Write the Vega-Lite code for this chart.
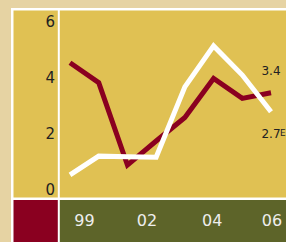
{
  "$schema": "https://vega.github.io/schema/vega-lite/v6.json",
  "width": 275,
  "height": 234,
  "autosize": {"type": "none"},
  "padding": {"left": 11, "top": 8, "right": 0, "bottom": 0},
  "background": "#E6D3A3",
  "view": {"fill": "#FFFFFF", "stroke": null},
  "config": {"axis": {"grid": false, "ticks": false, "tickSize": 0, "labels": false, "title": null, "domainCap": "butt"}},
  "datasets": {
    "series": [
      {"series": "red", "year": 1999, "value": 4.52},
      {"series": "red", "year": 2000, "value": 3.81},
      {"series": "red", "year": 2001, "value": 0.87},
      {"series": "red", "year": 2002, "value": 1.73},
      {"series": "red", "year": 2003, "value": 2.57},
      {"series": "red", "year": 2004, "value": 3.96},
      {"series": "red", "year": 2005, "value": 3.25},
      {"series": "red", "year": 2006, "value": 3.45, "label": "3.4"},
      {"series": "white", "year": 1999, "value": 0.52},
      {"series": "white", "year": 2000, "value": 1.19},
      {"series": "white", "year": 2001, "value": 1.17},
      {"series": "white", "year": 2002, "value": 1.15},
      {"series": "white", "year": 2003, "value": 3.66},
      {"series": "white", "year": 2004, "value": 5.12},
      {"series": "white", "year": 2005, "value": 4.08},
      {"series": "white", "year": 2006, "value": 2.77, "label": "2.7", "note": "E"}
    ],
    "xlabels": [
      {"label": "99", "year": 1999.5, "strip": "x"},
      {"label": "02", "year": 2001.68, "strip": "x"},
      {"label": "04", "year": 2003.95, "strip": "x"},
      {"label": "06", "year": 2006.03, "strip": "x"}
    ]
  },
  "encoding": {
    "x": {
      "field": "year",
      "type": "quantitative",
      "scale": {"domain": [1998.627, 2006.522], "range": [48.3, 275], "nice": false, "zero": false},
      "axis": {"orient": "bottom", "domain": true, "domainColor": "#5D6429", "domainWidth": 42.5, "offset": -21.25, "labels": false, "ticks": false, "title": null}
    }
  },
  "layer": [
    {
      "data": {"name": "series"},
      "transform": [{"filter": "datum.series == 'red'"}],
      "mark": {"type": "line", "color": "#8A0020", "strokeWidth": 5, "strokeJoin": "miter", "strokeCap": "butt"},
      "encoding": {
        "y": {
          "field": "value", "type": "quantitative",
          "scale": {"domain": [-0.267, 6.399], "range": [189, 2], "nice": false, "zero": false},
          "axis": {"orient": "left", "domain": true, "domainColor": "#E0C153", "domainWidth": 44.3, "offset": -24.15, "labels": false, "title": null}
        }
      }
    },
    {
      "data": {"name": "series"},
      "transform": [{"filter": "datum.series == 'white'"}],
      "mark": {"type": "line", "color": "#FFFFFF", "strokeWidth": 5, "strokeJoin": "miter", "strokeCap": "butt"},
      "encoding": {
        "y": {
          "field": "value", "type": "quantitative",
          "scale": {"domain": [-0.267, 6.399], "range": [189, 2], "nice": false, "zero": false},
          "axis": {"orient": "right", "domain": true, "domainColor": "#E0C153", "domainWidth": 226.7, "offset": -113.35, "labels": false, "title": null}
        }
      }
    },
    {
      "data": {"name": "series"},
      "transform": [{"filter": "datum.series == 'red' && datum.label"}],
      "mark": {"type": "text", "font": "DejaVu Sans", "fontSize": 12, "color": "#222222", "align": "center", "baseline": "alphabetic", "dy": -18},
      "encoding": {
        "y": {
          "field": "value", "type": "quantitative",
          "scale": {"domain": [-0.267, 6.399], "range": [189, 2], "nice": false, "zero": false},
          "axis": {"orient": "left", "domain": false, "offset": -24.15, "values": [0, 2, 4, 6], "labels": true, "labelPadding": -19.35, "labelFont": "DejaVu Sans", "labelFontSize": 15, "labelColor": "#222222", "labelAlign": "right", "labelBaseline": "middle", "title": null}
        },
        "text": {"field": "label"}
      }
    },
    {
      "data": {"name": "series"},
      "transform": [{"filter": "datum.series == 'white' && datum.label"}],
      "mark": {"type": "text", "font": "DejaVu Sans", "fontSize": 12, "color": "#222222", "align": "center", "baseline": "top", "dy": 17},
      "encoding": {
        "y": {"field": "value", "type": "quantitative", "scale": {"domain": [-0.267, 6.399], "range": [189, 2], "nice": false, "zero": false}, "axis": null},
        "text": {"field": "label"}
      }
    },
    {
      "data": {"name": "series"},
      "transform": [{"filter": "datum.note"}],
      "mark": {"type": "text", "font": "DejaVu Sans", "fontSize": 9, "color": "#222222", "align": "left", "baseline": "top", "dx": 9, "dy": 17},
      "encoding": {
        "y": {"field": "value", "type": "quantitative", "scale": {"domain": [-0.267, 6.399], "range": [189, 2], "nice": false, "zero": false}, "axis": null},
        "text": {"field": "note"}
      }
    },
    {
      "data": {"name": "xlabels"},
      "mark": {"type": "text", "font": "DejaVu Sans", "fontSize": 16, "color": "#EEEEEE", "align": "center", "baseline": "middle"},
      "encoding": {
        "y": {
          "field": "strip", "type": "nominal",
          "scale": {"type": "point", "range": [191.5, 234]},
          "axis": {"orient": "left", "domain": true, "domainColor": "#8A0020", "domainWidth": 44.3, "offset": -24.15, "labels": false, "title": null}
        },
        "text": {"field": "label"}
      }
    }
  ],
  "resolve": {"scale": {"y": "independent"}, "axis": {"y": "independent"}}
}
